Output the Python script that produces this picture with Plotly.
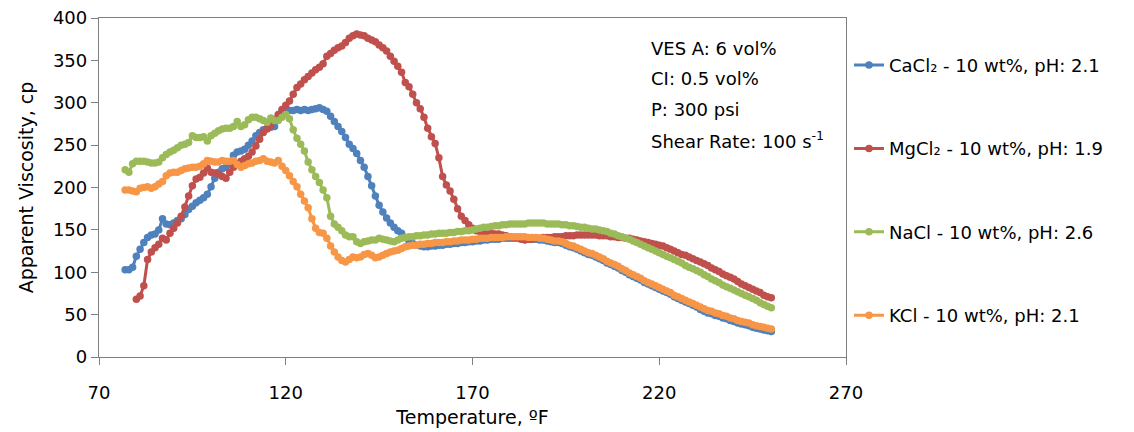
import plotly.graph_objects as go

# Temperature readings (°F)
temperature = [77, 78, 79, 80, 81, 82, 83, 84, 85, 86, 87, 88, 89, 90, 91, 92, 93, 94, 95, 96,
               97, 98, 99, 100, 101, 102, 103, 104, 105, 106, 107, 108, 109, 110, 111, 112, 113, 114, 115, 116,
               117, 118, 119, 120, 121, 122, 123, 124, 125, 126, 127, 128, 129, 130, 131, 132, 133, 134, 135, 136,
               137, 138, 139, 140, 141, 142, 143, 144, 145, 146, 147, 148, 149, 150, 151, 152, 153, 154, 155, 156,
               157, 158, 159, 160, 161, 162, 163, 164, 165, 166, 167, 168, 169, 170, 171, 172, 173, 174, 175, 176,
               177, 178, 179, 180, 181, 182, 183, 184, 185, 186, 187, 188, 189, 190, 191, 192, 193, 194, 195, 196,
               197, 198, 199, 200, 201, 202, 203, 204, 205, 206, 207, 208, 209, 210, 211, 212, 213, 214, 215, 216,
               217, 218, 219, 220, 221, 222, 223, 224, 225, 226, 227, 228, 229, 230, 231, 232, 233, 234, 235, 236,
               237, 238, 239, 240, 241, 242, 243, 244, 245, 246, 247, 248, 249, 250]

cacl2 = [103, 103, 106, 119, 127, 135, 141, 144, 145, 150, 163, 157, 156, 158, 161, 163, 168, 174, 178, 182,
         185, 188, 192, 201, 211, 218, 222, 224, 228, 238, 242, 243, 245, 250, 255, 261, 265, 268, 270, 271,
         272, 285, 290, 291, 291, 291, 292, 291, 292, 291, 292, 293, 294, 292, 290, 284, 278, 272, 266, 259,
         251, 246, 240, 232, 224, 213, 202, 190, 179, 171, 164, 158, 153, 149, 146, 141, 137, 134, 132, 131,
         130, 130, 131, 131, 132, 132, 133, 133, 134, 134, 135, 135, 136, 136, 137, 137, 138, 138, 139, 139,
         139, 140, 140, 140, 140, 140, 140, 140, 139, 139, 139, 138, 138, 137, 136, 135, 135, 134, 132, 130,
         129, 127, 125, 123, 121, 120, 118, 116, 114, 111, 109, 107, 105, 102, 100, 97, 95, 93, 91, 88,
         86, 84, 82, 80, 78, 76, 74, 71, 69, 67, 65, 63, 61, 59, 56, 54, 52, 51, 49, 48,
         46, 45, 43, 42, 40, 39, 38, 37, 35, 34, 33, 32, 31, 30]

mgcl2 = [None, None, None, 68, 72, 84, 115, 124, 129, 133, 140, 138, 146, 152, 158, 166, 177, 190, 202, 210,
         212, 217, 223, 218, 217, 216, 213, 211, 218, 224, 228, 231, 234, 237, 242, 249, 257, 265, 269, 273,
         280, 286, 292, 297, 302, 310, 318, 322, 327, 331, 335, 339, 342, 346, 355, 358, 362, 365, 367, 371,
         376, 379, 381, 380, 379, 376, 374, 372, 368, 365, 361, 355, 349, 343, 336, 324, 319, 310, 300, 293,
         283, 270, 260, 252, 235, 213, 203, 196, 186, 175, 166, 161, 156, 152, 149, 148, 147, 146, 146, 145,
         145, 144, 143, 142, 141, 141, 139, 138, 139, 139, 140, 140, 141, 141, 141, 142, 142, 142, 143, 143,
         143, 144, 144, 144, 144, 144, 144, 143, 143, 143, 142, 142, 141, 141, 140, 140, 139, 138, 137, 136,
         135, 134, 133, 132, 131, 129, 127, 125, 123, 121, 120, 118, 116, 114, 112, 110, 108, 105, 103, 101,
         98, 96, 94, 92, 89, 86, 84, 82, 80, 78, 76, 73, 71, 70]

nacl = [221, 218, 228, 231, 231, 231, 230, 229, 229, 230, 235, 239, 242, 244, 247, 250, 251, 253, 261, 259,
        259, 260, 255, 261, 264, 267, 269, 270, 270, 272, 278, 272, 274, 280, 283, 283, 281, 279, 277, 282,
        279, 279, 283, 286, 281, 268, 258, 251, 243, 230, 221, 213, 206, 197, 188, 166, 157, 153, 149, 144,
        142, 142, 136, 134, 136, 137, 138, 138, 140, 139, 138, 137, 136, 138, 140, 141, 142, 142, 143, 143,
        144, 144, 145, 145, 146, 146, 146, 147, 147, 148, 148, 149, 149, 150, 151, 152, 153, 153, 154, 155,
        155, 156, 156, 157, 157, 157, 157, 157, 158, 158, 158, 158, 158, 157, 157, 157, 157, 156, 156, 155,
        155, 154, 153, 153, 152, 151, 151, 150, 149, 148, 146, 145, 143, 142, 140, 139, 137, 135, 133, 131,
        129, 127, 125, 123, 121, 119, 117, 115, 113, 111, 108, 106, 104, 102, 100, 97, 95, 92, 90, 88,
        85, 83, 81, 79, 77, 75, 73, 71, 69, 67, 64, 62, 60, 58]

kcl = [197, 197, 196, 195, 199, 200, 201, 199, 201, 204, 207, 214, 217, 218, 218, 220, 222, 223, 224, 224,
       225, 228, 232, 231, 230, 230, 232, 231, 231, 232, 227, 224, 226, 228, 229, 231, 232, 234, 231, 230,
       229, 232, 225, 220, 214, 207, 201, 192, 184, 176, 163, 152, 147, 146, 140, 131, 124, 118, 114, 112,
       115, 118, 117, 118, 121, 122, 120, 117, 118, 120, 122, 124, 125, 126, 128, 130, 131, 132, 132, 133,
       133, 134, 134, 135, 135, 135, 136, 136, 137, 137, 138, 138, 138, 139, 139, 140, 140, 140, 141, 141,
       141, 141, 142, 142, 142, 142, 142, 142, 141, 141, 141, 140, 140, 139, 138, 137, 137, 136, 134, 132,
       131, 129, 127, 125, 123, 122, 120, 118, 116, 113, 111, 109, 107, 104, 102, 99, 97, 95, 93, 90,
       88, 86, 84, 82, 80, 78, 76, 73, 71, 69, 67, 65, 63, 61, 59, 57, 55, 54, 52, 51,
       49, 48, 46, 45, 43, 42, 41, 40, 38, 37, 36, 35, 34, 33]

series_names = ["CaCl\u2082 - 10 wt%, pH: 2.1", "MgCl\u2082 - 10 wt%, pH: 1.9",
                "NaCl - 10 wt%, pH: 2.6", "KCl - 10 wt%, pH: 2.1"]
series_values = [cacl2, mgcl2, nacl, kcl]
colors = ["#4F81BD", "#C0504D", "#9BBB59", "#F79646"]

x_ticks = [70, 120, 170, 220, 270]
y_ticks = [0, 50, 100, 150, 200, 250, 300, 350, 400]

conditions = ["VES A: 6 vol%", "CI: 0.5 vol%", "P: 300 psi", "Shear Rate: 100 s<sup>-1</sup>"]

FONT = "DejaVu Sans"

fig = go.Figure()
for name, vals, col in zip(series_names, series_values, colors):
    fig.add_trace(go.Scatter(
        x=temperature, y=vals, name=name, mode="lines+markers",
        line=dict(color=col, width=3),
        marker=dict(color=col, size=7.5, symbol="circle"),
        legendgroup=name,
    ))

W, H = 1134, 432
L, R, T, B = 99, 288, 18, 75
pw, ph = W - L - R, H - T - B

for i, txt in enumerate(conditions):
    ypx = 48 + i * 30.5
    fig.add_annotation(
        xref="paper", yref="paper",
        x=(649 - L) / pw, y=(H - B - ypx) / ph,
        xanchor="left", yanchor="middle",
        text=txt, showarrow=False,
        font=dict(family=FONT, size=18, color="black"),
    )

axis_common = dict(
    showline=True, linecolor="#7F7F7F", linewidth=1.3, mirror=True,
    ticks="outside", ticklen=7, tickcolor="#7F7F7F", tickwidth=1.3,
    showgrid=False, zeroline=False,
    tickfont=dict(family=FONT, size=18, color="black"),
)

fig.update_layout(
    width=W, height=H,
    margin=dict(l=L, r=R, t=T, b=B, autoexpand=False),
    paper_bgcolor="white", plot_bgcolor="white",
    template="none",
    showlegend=True,
    legend=dict(
        x=1.004, xanchor="left", y=0.915, yanchor="top",
        font=dict(family=FONT, size=18, color="black"),
        traceorder="grouped", tracegroupgap=57,
        bgcolor="rgba(0,0,0,0)", borderwidth=0,
    ),
    xaxis=dict(
        range=[70, 270], tickvals=x_ticks, ticktext=[str(v) for v in x_ticks],
        ticklabelstandoff=12,
        title=dict(text="Temperature, \u00baF", font=dict(family=FONT, size=19, color="black"), standoff=8),
        automargin=False,
        **axis_common,
    ),
    yaxis=dict(
        range=[0, 400], tickvals=y_ticks, ticktext=[str(v) for v in y_ticks],
        title=dict(text="Apparent Viscosity, cp", font=dict(family=FONT, size=19, color="black"), standoff=14),
        automargin=False,
        **axis_common,
    ),
)

fig.write_html("out.html")
